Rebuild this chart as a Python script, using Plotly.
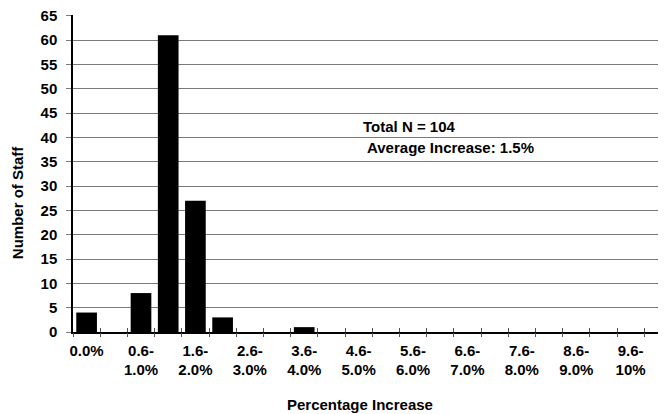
import plotly.graph_objects as go

categories = ["0.0%", "0.1-0.5%", "0.6-1.0%", "1.1-1.5%", "1.6-2.0%", "2.1-2.5%",
              "2.6-3.0%", "3.1-3.5%", "3.6-4.0%", "4.1-4.5%", "4.6-5.0%", "5.1-5.5%",
              "5.6-6.0%", "6.1-6.5%", "6.6-7.0%", "7.1-7.5%", "7.6-8.0%", "8.1-8.5%",
              "8.6-9.0%", "9.1-9.5%", "9.6-10%"]
staff_counts = [4, 0, 8, 61, 27, 3, 0, 0, 1, 0, 0, 0, 0, 0, 0, 0, 0, 0, 0, 0, 0]
tick_categories = ["0.0%", "0.6-1.0%", "1.6-2.0%", "2.6-3.0%", "3.6-4.0%", "4.6-5.0%",
                   "5.6-6.0%", "6.6-7.0%", "7.6-8.0%", "8.6-9.0%", "9.6-10%"]
tick_line1 = ["0.0%", "0.6-", "1.6-", "2.6-", "3.6-", "4.6-", "5.6-", "6.6-", "7.6-", "8.6-", "9.6-"]
tick_line2 = ["", "1.0%", "2.0%", "3.0%", "4.0%", "5.0%", "6.0%", "7.0%", "8.0%", "9.0%", "10%"]
y_ticks = list(range(0, 70, 5))

FONT = "Liberation Sans, Arial, sans-serif"
FS = 15
xr = [-0.5, 21.3]
yr = [0, 65.15]
bounds = [i - 0.5 for i in range(len(categories) + 1)]
tick_idx = [categories.index(c) for c in tick_categories]

# figure is offset by the page's 8px body margin
W, H = 658, 406
L, T = 65, 7
B = H - (331.7 - 8)
PLOT_H = H - T - B

def py(page_y):
    return (331.7 - page_y) / PLOT_H

def px(page_x):
    return (page_x - 73) / 593

fig = go.Figure()
fig.add_trace(go.Bar(x=categories, y=staff_counts, marker=dict(color="black", line=dict(width=0)),
                     showlegend=False))
for ax in ["x2", "x3", "x4"]:
    fig.add_trace(go.Scatter(x=[0], y=[0], xaxis=ax, mode="markers", marker=dict(opacity=0),
                             showlegend=False, hoverinfo="skip"))

fig.update_layout(
    width=W, height=H,
    margin=dict(l=L, r=0, t=T, b=B, autoexpand=False),
    paper_bgcolor="white", plot_bgcolor="white",
    bargap=0.24,
    font=dict(family=FONT, size=FS, color="black"),
    xaxis=dict(
        type="category", categoryorder="array", categoryarray=categories,
        range=xr, tickmode="array", tickvals=tick_categories, ticktext=tick_line1,
        ticks="", showgrid=False, showline=True, linecolor="black", linewidth=1.5,
        tickfont=dict(family=FONT, size=FS, weight="bold", color="black"),
        ticklabelstandoff=4, zeroline=False, automargin=False,
    ),
    xaxis4=dict(
        overlaying="x", anchor="y", range=xr, tickmode="array", tickvals=tick_idx,
        ticktext=tick_line2, ticks="", showgrid=False, zeroline=False, showline=False,
        tickfont=dict(family=FONT, size=FS, weight="bold", color="black"),
        ticklabelstandoff=27, automargin=False,
    ),
    xaxis2=dict(
        overlaying="x", anchor="y", range=xr, tickmode="array", tickvals=bounds,
        ticks="outside", ticklen=4, tickcolor="#555555", tickwidth=1,
        showticklabels=False, showgrid=False, zeroline=False, showline=False,
    ),
    xaxis3=dict(
        overlaying="x", anchor="y", range=xr, tickmode="array", tickvals=bounds,
        ticks="inside", ticklen=4, tickcolor="#555555", tickwidth=1,
        showticklabels=False, showgrid=False, zeroline=False, showline=False,
    ),
    yaxis=dict(
        range=yr, tickmode="array", tickvals=y_ticks,
        showgrid=True, gridcolor="#7a7a7a", gridwidth=1,
        showline=True, linecolor="black", linewidth=1.5,
        ticks="outside", ticklen=5, tickcolor="#7a7a7a", tickwidth=1,
        tickfont=dict(family=FONT, size=FS, weight="bold", color="black"),
        zeroline=False, automargin=False, ticklabelstandoff=6,
        ticklabeloverflow="allow",
    ),
    annotations=[
        dict(text="Percentage Increase", xref="paper", yref="paper", x=px(360), y=py(404),
             xanchor="center", yanchor="middle", showarrow=False,
             font=dict(family=FONT, size=FS, weight="bold")),
        dict(text="Number of Staff", xref="paper", yref="paper", x=px(17), y=py(202),
             textangle=-90, xanchor="center", yanchor="middle", showarrow=False,
             font=dict(family=FONT, size=FS, weight="bold")),
        dict(text="Total N = 104", xref="paper", yref="paper", x=px(361),
             y=py(126.7), xanchor="left", yanchor="middle", showarrow=False,
             font=dict(family=FONT, size=FS, weight="bold")),
        dict(text="Average Increase: 1.5%", xref="paper", yref="paper", x=px(365),
             y=py(147.7), xanchor="left", yanchor="middle", showarrow=False,
             font=dict(family=FONT, size=FS, weight="bold")),
    ],
)

fig.write_html("out.html")
